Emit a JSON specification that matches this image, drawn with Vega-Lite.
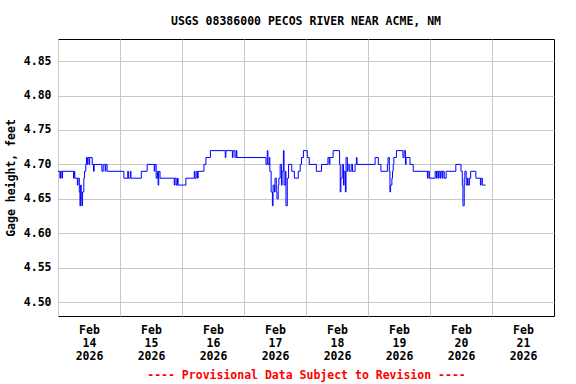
{
  "$schema": "https://vega.github.io/schema/vega-lite/v6.json",
  "width": 496,
  "height": 277,
  "autosize": {"type": "none"},
  "padding": {"left": 58, "top": 39, "right": 22, "bottom": 68},
  "background": "white",
  "title": {
    "text": "USGS 08386000 PECOS RIVER NEAR ACME, NM",
    "font": "DejaVu Sans Mono",
    "fontSize": 11.5,
    "fontWeight": "bold",
    "color": "black",
    "anchor": "middle",
    "offset": 12
  },
  "config": {
    "view": {"stroke": "black", "strokeWidth": 1},
    "axis": {
      "labelFont": "DejaVu Sans Mono",
      "labelFontSize": 11.5,
      "labelFontWeight": "bold",
      "labelColor": "black",
      "titleFont": "DejaVu Sans Mono",
      "titleFontSize": 11.5,
      "titleFontWeight": "bold",
      "titleColor": "black",
      "gridColor": "#c8c8c8",
      "gridWidth": 1,
      "gridOpacity": 1,
      "domain": false,
      "ticks": false
    }
  },
  "data": {
    "values": [
      {"t": "2026-02-14T00:00", "h": 4.69},
      {"t": "2026-02-14T00:45", "h": 4.68},
      {"t": "2026-02-14T01:00", "h": 4.69},
      {"t": "2026-02-14T01:30", "h": 4.68},
      {"t": "2026-02-14T01:45", "h": 4.69},
      {"t": "2026-02-14T06:00", "h": 4.68},
      {"t": "2026-02-14T06:15", "h": 4.69},
      {"t": "2026-02-14T06:30", "h": 4.68},
      {"t": "2026-02-14T07:30", "h": 4.67},
      {"t": "2026-02-14T07:45", "h": 4.68},
      {"t": "2026-02-14T08:15", "h": 4.66},
      {"t": "2026-02-14T08:30", "h": 4.64},
      {"t": "2026-02-14T08:45", "h": 4.67},
      {"t": "2026-02-14T09:00", "h": 4.65},
      {"t": "2026-02-14T09:15", "h": 4.64},
      {"t": "2026-02-14T09:30", "h": 4.66},
      {"t": "2026-02-14T10:00", "h": 4.68},
      {"t": "2026-02-14T10:15", "h": 4.69},
      {"t": "2026-02-14T10:45", "h": 4.70},
      {"t": "2026-02-14T11:00", "h": 4.71},
      {"t": "2026-02-14T11:15", "h": 4.70},
      {"t": "2026-02-14T11:30", "h": 4.71},
      {"t": "2026-02-14T12:00", "h": 4.70},
      {"t": "2026-02-14T12:15", "h": 4.71},
      {"t": "2026-02-14T13:15", "h": 4.70},
      {"t": "2026-02-14T13:45", "h": 4.69},
      {"t": "2026-02-14T14:00", "h": 4.70},
      {"t": "2026-02-14T17:00", "h": 4.69},
      {"t": "2026-02-14T17:30", "h": 4.70},
      {"t": "2026-02-14T18:15", "h": 4.69},
      {"t": "2026-02-14T18:30", "h": 4.70},
      {"t": "2026-02-14T19:00", "h": 4.69},
      {"t": "2026-02-15T01:30", "h": 4.68},
      {"t": "2026-02-15T03:00", "h": 4.69},
      {"t": "2026-02-15T03:15", "h": 4.68},
      {"t": "2026-02-15T04:00", "h": 4.69},
      {"t": "2026-02-15T04:15", "h": 4.68},
      {"t": "2026-02-15T08:15", "h": 4.69},
      {"t": "2026-02-15T10:30", "h": 4.70},
      {"t": "2026-02-15T13:15", "h": 4.69},
      {"t": "2026-02-15T13:30", "h": 4.70},
      {"t": "2026-02-15T14:00", "h": 4.68},
      {"t": "2026-02-15T14:30", "h": 4.69},
      {"t": "2026-02-15T14:45", "h": 4.67},
      {"t": "2026-02-15T15:00", "h": 4.69},
      {"t": "2026-02-15T15:30", "h": 4.68},
      {"t": "2026-02-15T21:00", "h": 4.67},
      {"t": "2026-02-15T21:15", "h": 4.68},
      {"t": "2026-02-15T21:45", "h": 4.67},
      {"t": "2026-02-15T22:15", "h": 4.68},
      {"t": "2026-02-15T22:30", "h": 4.67},
      {"t": "2026-02-16T01:30", "h": 4.68},
      {"t": "2026-02-16T04:45", "h": 4.69},
      {"t": "2026-02-16T05:00", "h": 4.68},
      {"t": "2026-02-16T05:30", "h": 4.69},
      {"t": "2026-02-16T06:00", "h": 4.68},
      {"t": "2026-02-16T06:15", "h": 4.69},
      {"t": "2026-02-16T08:30", "h": 4.70},
      {"t": "2026-02-16T09:15", "h": 4.71},
      {"t": "2026-02-16T11:00", "h": 4.72},
      {"t": "2026-02-16T16:45", "h": 4.71},
      {"t": "2026-02-16T17:00", "h": 4.72},
      {"t": "2026-02-16T19:30", "h": 4.71},
      {"t": "2026-02-16T19:45", "h": 4.72},
      {"t": "2026-02-16T20:30", "h": 4.71},
      {"t": "2026-02-16T21:00", "h": 4.72},
      {"t": "2026-02-16T21:15", "h": 4.71},
      {"t": "2026-02-17T08:30", "h": 4.70},
      {"t": "2026-02-17T09:00", "h": 4.72},
      {"t": "2026-02-17T09:15", "h": 4.70},
      {"t": "2026-02-17T09:45", "h": 4.71},
      {"t": "2026-02-17T10:00", "h": 4.69},
      {"t": "2026-02-17T10:30", "h": 4.66},
      {"t": "2026-02-17T11:00", "h": 4.64},
      {"t": "2026-02-17T11:15", "h": 4.67},
      {"t": "2026-02-17T11:45", "h": 4.66},
      {"t": "2026-02-17T12:00", "h": 4.68},
      {"t": "2026-02-17T12:30", "h": 4.66},
      {"t": "2026-02-17T12:45", "h": 4.65},
      {"t": "2026-02-17T13:15", "h": 4.67},
      {"t": "2026-02-17T13:30", "h": 4.68},
      {"t": "2026-02-17T14:00", "h": 4.70},
      {"t": "2026-02-17T14:30", "h": 4.67},
      {"t": "2026-02-17T14:45", "h": 4.69},
      {"t": "2026-02-17T15:15", "h": 4.72},
      {"t": "2026-02-17T15:30", "h": 4.67},
      {"t": "2026-02-17T16:00", "h": 4.69},
      {"t": "2026-02-17T16:15", "h": 4.64},
      {"t": "2026-02-17T16:45", "h": 4.68},
      {"t": "2026-02-17T17:15", "h": 4.70},
      {"t": "2026-02-17T18:30", "h": 4.69},
      {"t": "2026-02-17T19:30", "h": 4.68},
      {"t": "2026-02-17T21:00", "h": 4.69},
      {"t": "2026-02-17T21:45", "h": 4.70},
      {"t": "2026-02-17T22:15", "h": 4.71},
      {"t": "2026-02-17T23:00", "h": 4.72},
      {"t": "2026-02-18T00:30", "h": 4.71},
      {"t": "2026-02-18T01:15", "h": 4.70},
      {"t": "2026-02-18T04:00", "h": 4.69},
      {"t": "2026-02-18T06:00", "h": 4.70},
      {"t": "2026-02-18T08:30", "h": 4.71},
      {"t": "2026-02-18T09:00", "h": 4.70},
      {"t": "2026-02-18T09:15", "h": 4.71},
      {"t": "2026-02-18T10:30", "h": 4.72},
      {"t": "2026-02-18T13:00", "h": 4.70},
      {"t": "2026-02-18T13:15", "h": 4.66},
      {"t": "2026-02-18T13:30", "h": 4.68},
      {"t": "2026-02-18T14:00", "h": 4.70},
      {"t": "2026-02-18T14:30", "h": 4.67},
      {"t": "2026-02-18T14:45", "h": 4.69},
      {"t": "2026-02-18T15:15", "h": 4.66},
      {"t": "2026-02-18T15:30", "h": 4.71},
      {"t": "2026-02-18T16:00", "h": 4.69},
      {"t": "2026-02-18T16:15", "h": 4.70},
      {"t": "2026-02-18T16:45", "h": 4.69},
      {"t": "2026-02-18T17:30", "h": 4.70},
      {"t": "2026-02-18T18:00", "h": 4.69},
      {"t": "2026-02-18T19:00", "h": 4.70},
      {"t": "2026-02-18T19:30", "h": 4.71},
      {"t": "2026-02-18T19:45", "h": 4.70},
      {"t": "2026-02-19T02:45", "h": 4.71},
      {"t": "2026-02-19T04:00", "h": 4.70},
      {"t": "2026-02-19T05:00", "h": 4.69},
      {"t": "2026-02-19T07:30", "h": 4.70},
      {"t": "2026-02-19T07:45", "h": 4.71},
      {"t": "2026-02-19T08:15", "h": 4.69},
      {"t": "2026-02-19T08:30", "h": 4.66},
      {"t": "2026-02-19T08:45", "h": 4.67},
      {"t": "2026-02-19T09:15", "h": 4.68},
      {"t": "2026-02-19T09:30", "h": 4.69},
      {"t": "2026-02-19T09:45", "h": 4.70},
      {"t": "2026-02-19T10:00", "h": 4.71},
      {"t": "2026-02-19T11:00", "h": 4.72},
      {"t": "2026-02-19T13:30", "h": 4.71},
      {"t": "2026-02-19T14:00", "h": 4.72},
      {"t": "2026-02-19T14:30", "h": 4.70},
      {"t": "2026-02-19T14:45", "h": 4.71},
      {"t": "2026-02-19T16:15", "h": 4.70},
      {"t": "2026-02-19T17:30", "h": 4.69},
      {"t": "2026-02-19T23:00", "h": 4.68},
      {"t": "2026-02-19T23:15", "h": 4.69},
      {"t": "2026-02-19T23:45", "h": 4.68},
      {"t": "2026-02-20T02:00", "h": 4.69},
      {"t": "2026-02-20T02:30", "h": 4.68},
      {"t": "2026-02-20T02:45", "h": 4.69},
      {"t": "2026-02-20T03:15", "h": 4.68},
      {"t": "2026-02-20T03:30", "h": 4.69},
      {"t": "2026-02-20T04:00", "h": 4.68},
      {"t": "2026-02-20T04:15", "h": 4.69},
      {"t": "2026-02-20T04:45", "h": 4.68},
      {"t": "2026-02-20T05:00", "h": 4.69},
      {"t": "2026-02-20T05:30", "h": 4.68},
      {"t": "2026-02-20T06:15", "h": 4.69},
      {"t": "2026-02-20T10:00", "h": 4.70},
      {"t": "2026-02-20T12:00", "h": 4.69},
      {"t": "2026-02-20T12:30", "h": 4.67},
      {"t": "2026-02-20T12:45", "h": 4.64},
      {"t": "2026-02-20T13:15", "h": 4.68},
      {"t": "2026-02-20T13:30", "h": 4.69},
      {"t": "2026-02-20T14:00", "h": 4.67},
      {"t": "2026-02-20T14:30", "h": 4.68},
      {"t": "2026-02-20T14:45", "h": 4.67},
      {"t": "2026-02-20T15:15", "h": 4.68},
      {"t": "2026-02-20T15:45", "h": 4.69},
      {"t": "2026-02-20T17:45", "h": 4.68},
      {"t": "2026-02-20T19:30", "h": 4.67},
      {"t": "2026-02-20T19:45", "h": 4.68},
      {"t": "2026-02-20T20:15", "h": 4.67},
      {"t": "2026-02-20T21:30", "h": 4.67}
    ]
  },
  "mark": {"type": "line", "interpolate": "step-after", "color": "#0000ff", "strokeWidth": 1, "clip": true},
  "encoding": {
    "x": {
      "field": "t",
      "type": "temporal",
      "scale": {
        "domain": [
          {"year": 2026, "month": 2, "date": 14},
          {"year": 2026, "month": 2, "date": 22}
        ]
      },
      "axis": {
        "values": [
          {"year": 2026, "month": 2, "date": 14},
          {"year": 2026, "month": 2, "date": 15},
          {"year": 2026, "month": 2, "date": 16},
          {"year": 2026, "month": 2, "date": 17},
          {"year": 2026, "month": 2, "date": 18},
          {"year": 2026, "month": 2, "date": 19},
          {"year": 2026, "month": 2, "date": 20},
          {"year": 2026, "month": 2, "date": 21}
        ],
        "labelExpr": "[timeFormat(datum.value, '%b'), timeFormat(datum.value, '%d'), timeFormat(datum.value, '%Y')]",
        "labelOffset": 31,
        "labelAlign": "center",
        "labelBaseline": "top",
        "labelLineHeight": 13,
        "labelPadding": 8,
        "labelOverlap": false,
        "labelBound": false,
        "labelFlush": false,
        "title": "---- Provisional Data Subject to Revision ----",
        "titleColor": "#ff0000",
        "titlePadding": 8,
        "grid": true
      }
    },
    "y": {
      "field": "h",
      "type": "quantitative",
      "scale": {"domain": [4.48, 4.882], "zero": false, "nice": false},
      "axis": {
        "values": [4.5, 4.55, 4.6, 4.65, 4.7, 4.75, 4.8, 4.85],
        "format": ".2f",
        "labelPadding": 7,
        "title": "Gage height, feet",
        "titlePadding": 7,
        "grid": true
      }
    }
  }
}
